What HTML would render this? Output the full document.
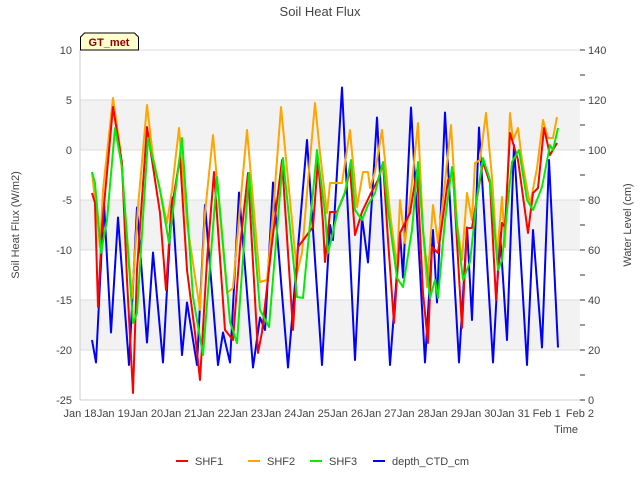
<!DOCTYPE html>
<html><head><meta charset="utf-8"><style>
body{margin:0;background:#fff}
svg text{font-family:"Liberation Sans",sans-serif;fill:#444}
</style></head><body>
<svg id="chart" width="640" height="480" xmlns="http://www.w3.org/2000/svg">
<text x="320" y="16" text-anchor="middle" font-size="13">Soil Heat Flux</text>
<g id="bands"></g>
<g id="axes"></g>
<g id="series"></g>
<g>
<path d="M80.5,50 L80.5,37 L84.5,33 L134.5,33 L138.5,37 L138.5,50 Z" fill="#ffffcc" stroke="#000"/>
<text x="109" y="46" text-anchor="middle" font-size="11" font-weight="bold" style="fill:#8b0000">GT_met</text>
</g>
<text transform="translate(19,225) rotate(-90)" text-anchor="middle" font-size="11">Soil Heat Flux (W/m2)</text>
<text transform="translate(631,225) rotate(-90)" text-anchor="middle" font-size="11">Water Level (cm)</text>
<text x="566" y="433" text-anchor="middle" font-size="11">Time</text>
<g id="legend"></g>
</svg>
<script>
const xTickLabels=["Jan 18","Jan 19","Jan 20","Jan 21","Jan 22","Jan 23","Jan 24","Jan 25","Jan 26","Jan 27","Jan 28","Jan 29","Jan 30","Jan 31","Feb 1","Feb 2"];
const yTicks=[10,5,0,-5,-10,-15,-20,-25];
const y2Ticks=[0,20,40,60,80,100,120,140];
const shf1T=[.36,.45,.54,.66,.99,1.26,1.41,1.59,1.71,2.01,2.4,2.58,2.73,3.0,3.21,3.45,3.6,3.81,4.02,4.35,4.59,4.8,5.04,5.34,5.46,5.76,6.06,6.39,6.54,6.99,7.14,7.29,7.35,7.5,7.71,7.95,8.1,8.25,8.46,8.7,8.94,9.09,9.24,9.42,9.6,9.9,10.11,10.29,10.44,10.56,10.74,11.04,11.19,11.46,11.61,11.76,12.09,12.3,12.48,12.66,12.75,12.9,13.14,13.44,13.59,13.74,13.92,14.1,14.31];
const shf1V=[-4.3,-5.3,-15.7,-7.7,4.3,-1.3,-13,-24.3,-12,2.3,-6.3,-14,-6.3,-0.7,-12,-18.3,-23,-11,-2.2,-18,-19,-9.7,-2.3,-20.3,-18.2,-9.3,-1,-18,-9.7,-7.7,-1,-7.3,-11.2,-6.2,-6.2,-4.3,-1.8,-8.5,-6.2,-4.5,-3,-1.3,-9,-17.3,-8.3,-6.3,-2,-14.3,-19.3,-9.7,-10.3,-3,-2.3,-17.8,-7.8,-7.8,-1.2,-3.3,-15,-7.3,-7.7,1.7,-1,-8.3,-4.3,-3.8,2.2,-0.5,0.7];
const shf2T=[.36,.6,.69,.99,1.2,1.56,1.74,2.01,2.19,2.61,2.76,2.97,3.21,3.6,3.75,3.99,4.41,4.59,4.8,5.01,5.4,5.61,5.79,6.03,6.51,6.66,6.81,7.05,7.2,7.41,7.5,7.86,8.1,8.31,8.49,8.64,8.7,8.85,9.06,9.3,9.51,9.6,9.75,9.96,10.14,10.29,10.41,10.59,10.74,10.95,11.13,11.31,11.46,11.61,11.76,11.85,12,12.18,12.36,12.51,12.66,12.75,12.9,12.99,13.14,13.26,13.5,13.71,13.89,14.04,14.19,14.31];
const shf2V=[-2.2,-9.7,-4,5.2,0.3,-14.8,-5.7,4.5,-0.7,-7.3,-4,2.2,-7.3,-16,-6.3,1.5,-14.3,-13.8,-5.7,2,-13.2,-13,-6.3,4.3,-12.3,-10.3,-4.3,4.7,-0.3,-6.3,-3.3,-3.3,2,-5.7,-2.2,-2.2,-3.8,-2.2,2,-6.3,-11.7,-5,-9.3,-3.2,2.7,-8,-13.7,-5.5,-9.3,-3.2,2.5,-7.3,-11,-4.3,-7,-1.3,-1,3.7,-2.7,-10.7,-4.7,-9.7,3.7,1,2.2,-1,-5.5,-1.8,3,1.2,1.2,3.3];
const shf3T=[.36,.45,.63,.81,1.05,1.26,1.59,1.71,2.04,2.4,2.67,3.06,3.39,3.69,4.11,4.5,4.71,5.07,5.4,5.67,6.09,6.51,6.69,7.11,7.35,7.44,7.59,7.74,7.95,8.13,8.25,8.46,8.64,8.85,9.09,9.24,9.51,9.69,9.96,10.14,10.29,10.5,10.65,10.74,10.95,11.16,11.31,11.49,11.7,11.91,12.09,12.3,12.54,12.66,12.96,13.17,13.41,13.59,13.86,14.1,14.19,14.34];
const shf3V=[-2.2,-3.3,-10.3,-7,2.2,-1.7,-17.3,-16.3,1.2,-4,-9.3,1.2,-14.7,-20.5,-2.7,-17.2,-19.3,-2.3,-16,-17.7,-0.8,-14.7,-14.8,0,-6.3,-10.3,-8.2,-6,-4.2,-1,-6,-7,-5.5,-4.3,-1.2,-6,-12.8,-13.7,-8,-1.2,-8,-14.8,-13,-14.8,-7,-1.7,-7.7,-13,-11.2,-4.7,-0.8,-3,-12,-11,-1.2,0,-5,-6,-3.7,0.5,0,2.2];
const depthT=[.36,.48,.72,.93,1.14,1.47,1.71,2.01,2.19,2.49,2.76,3.06,3.21,3.51,3.75,4.14,4.29,4.5,4.77,5.19,5.4,5.55,5.79,6.24,6.81,7.26,7.5,7.59,7.86,8.25,8.46,8.64,8.91,9.3,9.6,9.69,9.93,10.35,10.59,10.71,10.95,11.37,11.61,11.76,11.97,12.39,12.6,12.81,13.02,13.41,13.59,13.86,14.07,14.34];
const depthV=[24,15,79,27,73,14,77,23,59,15,81,18,39,14,78,14,27,15,83,13,33,28,87,13,104,14,70,64,125,16,73,55,113,14,67,49,117,15,68,39,115,15,69,32,109,15,67,24,102,14,68,21,96,21];
const legendNames=["SHF1","SHF2","SHF3","depth_CTD_cm"];
const colors=["#ff0000","#ffa500","#00ee00","#0000ff"];
const L=80,R=580,T=50,B=400;
const xs=d=>L+(R-L)*d/15;
const ys=v=>T+(10-v)*(B-T)/35;
const y2s=v=>B-v*(B-T)/140;
const NS="http://www.w3.org/2000/svg";
function mk(tag,parent,attrs){const e=document.createElementNS(NS,tag);for(const k in attrs)e.setAttribute(k,attrs[k]);parent.appendChild(e);return e;}
const bands=document.getElementById('bands');
for(let i=0;i<yTicks.length-1;i++){
  if(i%2===1){const r=mk('rect',bands,{x:L,y:ys(yTicks[i]),width:R-L,height:ys(yTicks[i+1])-ys(yTicks[i]),fill:'#f2f2f2'});
  
  }
}
const axes=document.getElementById('axes');
yTicks.forEach(v=>{
  const y=ys(v);
  const g=mk('line',axes,{x1:L,x2:R,y1:y,y2:y,stroke:'#dcdcdc','stroke-width':1});
  
  
  const t=mk('text',axes,{x:L-8,y:y+4,'text-anchor':'end','font-size':11});
  t.textContent=v;
  
  
});
mk('line',axes,{x1:L,x2:L,y1:T,y2:B,stroke:'#ccc'});
mk('line',axes,{x1:L,x2:R,y1:B,y2:B,stroke:'#ccc'});
for(let v=0;v<=140;v+=10){
  const y=y2s(v);
  mk('line',axes,{x1:R,x2:R+5,y1:y,y2:y,stroke:'#333'});
}
y2Ticks.forEach(v=>{
  const t=mk('text',axes,{x:R+8,y:y2s(v)+4,'font-size':11});
  t.textContent=v;
  
  
});
xTickLabels.forEach((s,i)=>{
  const t=mk('text',axes,{x:xs(i),y:B+17,'text-anchor':'middle','font-size':11});
  t.textContent=s;
  
  
});
const ser=document.getElementById('series');
function line(T_,V_,sy,c,name){
  const p=T_.map((t,i)=>xs(t).toFixed(1)+','+sy(V_[i]).toFixed(1)).join(' ');
  const e=mk('polyline',ser,{points:p,fill:'none',stroke:c,'stroke-width':2,'stroke-linejoin':'round'});
  
  
}
line(depthT,depthV,y2s,colors[3],'depth-ctd-line');
line(shf2T,shf2V,ys,colors[1],'shf2-line');
line(shf1T,shf1V,ys,colors[0],'shf1-line');
line(shf3T,shf3V,ys,colors[2],'shf3-line');
const leg=document.getElementById('legend');
const lx=[176,248,310,373];
legendNames.forEach((n,i)=>{
  const g=mk('g',leg,{});
  
  
  mk('line',g,{x1:lx[i],x2:lx[i]+12,y1:461,y2:461,stroke:colors[i],'stroke-width':2});
  const t=mk('text',g,{x:lx[i]+19,y:465,'font-size':11});
  t.textContent=n;
});
</script>
</body></html>
